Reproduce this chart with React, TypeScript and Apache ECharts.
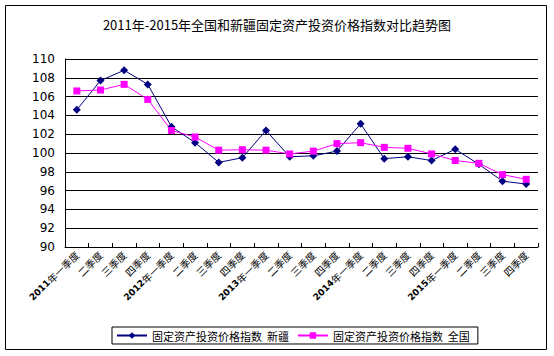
import React, { useEffect, useRef } from "react";
import * as echarts from "echarts";

const years = ["2011", "2012", "2013", "2014", "2015"];
const quarters = ["一季度", "二季度", "三季度", "四季度"];
const categories: string[] = [];
years.forEach((y) => quarters.forEach((q, i) => categories.push(i === 0 ? `${y}年${q}` : q)));

const xinjiang = [104.6, 107.7, 108.8, 107.3, 102.8, 101.1, 99.0, 99.5, 102.4, 99.6, 99.7, 100.2, 103.1, 99.4, 99.6, 99.2, 100.4, 98.8, 97.0, 96.7];
const national = [106.6, 106.7, 107.3, 105.7, 102.4, 101.7, 100.3, 100.35, 100.3, 99.9, 100.2, 101.0, 101.1, 100.6, 100.5, 99.9, 99.2, 98.9, 97.7, 97.2];

const titleText = "2011年-2015年全国和新疆固定资产投资价格指数对比趋势图";
const nameXJ = "固定资产投资价格指数  新疆";
const nameQG = "固定资产投资价格指数  全国";

const FONT = "'Noto Sans CJK SC', 'DejaVu Sans', sans-serif";

export default function App() {
  const ref = useRef<HTMLDivElement>(null);
  useEffect(() => {
    document.body.style.margin = "0";
    const chart = echarts.init(ref.current!, undefined, { renderer: "svg" });
    chart.setOption({
      animation: false,
      backgroundColor: "#ffffff",
      textStyle: { fontFamily: FONT },
      title: {
        text: titleText,
        left: "center",
        top: 13,
        textStyle: { fontSize: 13, fontWeight: "normal", color: "#000", fontFamily: FONT },
      },
      graphic: [
        {
          type: "rect",
          shape: { x: 5.5, y: 5.5, width: 541, height: 344 },
          style: { fill: "none", stroke: "#000", lineWidth: 1 },
          silent: true,
        },
      ],
      legend: {
        left: 112,
        top: 327,
        orient: "horizontal",
        itemGap: 8,
        itemWidth: 30,
        itemHeight: 8,
        borderColor: "#000",
        borderWidth: 1,
        padding: [3, 8, 3, 4],
        textStyle: { fontSize: 11, color: "#000", fontFamily: FONT },
        data: [nameXJ, nameQG],
      },
      grid: { left: 65, right: 16, top: 59, bottom: 109 },
      xAxis: {
        type: "category",
        data: categories,
        boundaryGap: true,
        axisLine: { lineStyle: { color: "#000", width: 1 } },
        axisTick: { show: true, inside: true, length: 4, lineStyle: { color: "#000" } },
        axisLabel: {
          interval: 0,
          rotate: 45,
          fontSize: 10,
          color: "#000",
          margin: 6,
          fontFamily: FONT,
          formatter: (v: string) => {
            const m = v.match(/^(\d{4})(.*)$/);
            return m ? `{b|${m[1]}}${m[2]}` : v;
          },
          rich: { b: { fontWeight: "bold", fontSize: 9, fontFamily: "'DejaVu Sans', sans-serif" } },
        },
      },
      yAxis: {
        type: "value",
        min: 90,
        max: 110,
        interval: 2,
        axisLine: { show: true, lineStyle: { color: "#000" } },
        axisTick: { show: false },
        axisLabel: { fontSize: 12, color: "#000", margin: 10, fontFamily: "'DejaVu Sans', sans-serif" },
        splitLine: { show: true, lineStyle: { color: "#000", width: 1 } },
      },
      series: [
        {
          name: nameXJ,
          type: "line",
          data: xinjiang,
          symbol: "diamond",
          symbolSize: 8,
          itemStyle: { color: "#000080" },
          lineStyle: { color: "#000080", width: 1 },
        },
        {
          name: nameQG,
          type: "line",
          data: national,
          symbol: "rect",
          symbolSize: 7,
          itemStyle: { color: "#ff00ff" },
          lineStyle: { color: "#ff00ff", width: 1 },
        },
      ],
    });
    return () => chart.dispose();
  }, []);
  return <div ref={ref} style={{ width: 554, height: 356 }} />;
}
